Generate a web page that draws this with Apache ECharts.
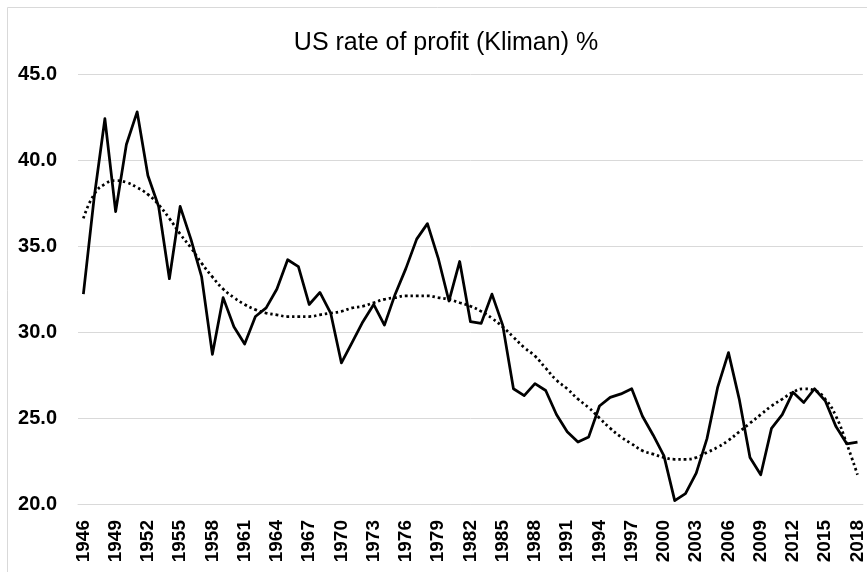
<!DOCTYPE html>
<html>
<head>
<meta charset="utf-8">
<script src="https://cdn.jsdelivr.net/npm/echarts@6/dist/echarts.min.js"></script>
<style>html,body{margin:0;padding:0;background:#fff}#c{width:867px;height:572px}</style>
</head>
<body>
<div id="c"></div>
<script>
const years = [];
for (let y = 1946; y <= 2018; y++) years.push(String(y));

const profitRate = [
  32.2, 37.8, 42.4, 37.0, 40.9, 42.8, 39.1, 37.3, 33.1, 37.3,
  35.4, 33.2, 28.7, 32.0, 30.3, 29.3, 30.9, 31.4, 32.5, 34.2,
  33.8, 31.6, 32.3, 31.1, 28.2, 29.4, 30.6, 31.6, 30.4, 32.2,
  33.7, 35.4, 36.3, 34.3, 31.8, 34.1, 30.6, 30.5, 32.2, 30.4,
  26.7, 26.3, 27.0, 26.6, 25.2, 24.2, 23.6, 23.9, 25.7, 26.2,
  26.4, 26.7, 25.1, 24.0, 22.8, 20.2, 20.6, 21.8, 23.8, 26.8,
  28.8, 26.1, 22.7, 21.7, 24.4, 25.2, 26.5, 25.9, 26.7, 26.0,
  24.5, 23.5, 23.6
];

const trendLine = [
  36.6, 38.0, 38.6, 38.8, 38.7, 38.4, 38.0, 37.4, 36.6, 35.7,
  34.9, 34.0, 33.2, 32.5, 32.0, 31.6, 31.3, 31.1, 31.0, 30.9,
  30.9, 30.9, 31.0, 31.1, 31.2, 31.4, 31.5, 31.7, 31.9, 32.0,
  32.1, 32.1, 32.1, 32.0, 31.9, 31.7, 31.5, 31.2, 30.8, 30.3,
  29.7, 29.1, 28.6, 27.9, 27.2, 26.7, 26.1, 25.6, 25.0, 24.4,
  23.9, 23.5, 23.1, 22.9, 22.7, 22.6, 22.6, 22.7, 23.0, 23.3,
  23.7, 24.2, 24.7, 25.2, 25.7, 26.1, 26.5, 26.7, 26.6, 26.1,
  25.1, 23.5, 21.7
];

const yTicks = { min: 20, max: 45, step: 5 };

const chart = echarts.init(document.getElementById('c'), null, { renderer: 'canvas' });
chart.setOption({
  backgroundColor: '#ffffff',
  animation: false,
  graphic: [{
    type: 'rect',
    shape: { x: 7.5, y: 7.5, width: 900, height: 600 },
    style: { fill: 'none', stroke: '#d9d9d9', lineWidth: 1 },
    silent: true
  }],
  title: {
    text: 'US rate of profit (Kliman) %',
    left: 441,
    top: 26,
    textAlign: 'center',
    textStyle: { fontFamily: 'Liberation Sans', fontSize: 25, fontWeight: 'normal', color: '#000' }
  },
  grid: { left: 78, right: 4, top: 74, height: 430, containLabel: false },
  xAxis: {
    type: 'category',
    data: years,
    boundaryGap: true,
    axisLine: { show: true, lineStyle: { color: '#d9d9d9', width: 1 } },
    axisTick: { show: false },
    axisLabel: {
      interval: 2,
      rotate: 90,
      margin: 16,
      color: '#000',
      fontFamily: 'Liberation Sans',
      fontWeight: 'bold',
      fontSize: 19
    },
    splitLine: { show: false }
  },
  yAxis: {
    type: 'value',
    min: yTicks.min,
    max: yTicks.max,
    interval: yTicks.step,
    axisLine: { show: false },
    axisTick: { show: false },
    axisLabel: {
      margin: 21,
      color: '#000',
      fontFamily: 'Liberation Sans',
      fontWeight: 'bold',
      fontSize: 20,
      formatter: v => v.toFixed(1)
    },
    splitLine: { show: true, lineStyle: { color: '#d9d9d9', width: 1 } }
  },
  series: [
    {
      name: 'Rate of profit',
      type: 'line',
      data: profitRate,
      symbol: 'none',
      lineStyle: { color: '#000', width: 2.75, join: 'round' },
      z: 3
    },
    {
      name: 'Trend',
      type: 'line',
      data: trendLine,
      symbol: 'none',
      smooth: true,
      lineStyle: { color: '#000', width: 2.75, type: [2.5, 3] },
      z: 2
    }
  ]
});
</script>
</body>
</html>
